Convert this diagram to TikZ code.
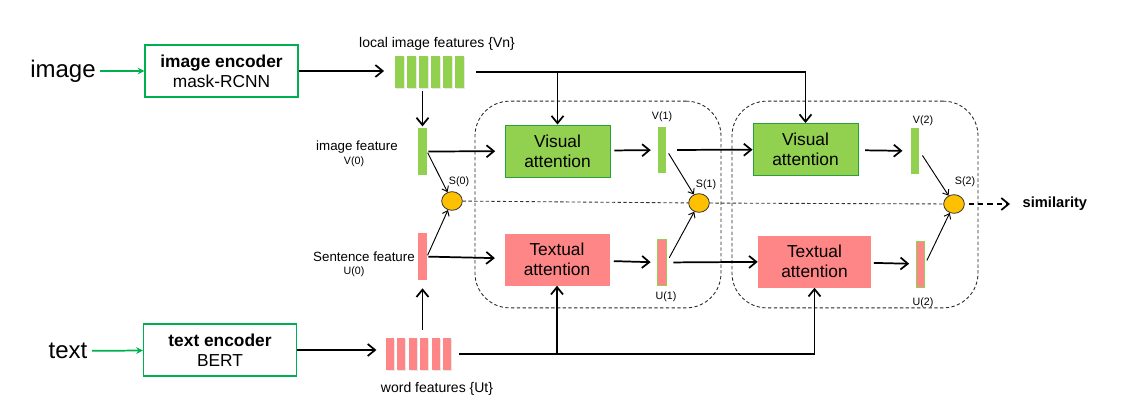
\documentclass[tikz,border=0pt]{standalone}
\usepackage{fontspec}
\setmainfont{Liberation Sans}
\usetikzlibrary{arrows.meta,positioning,shapes.geometric,shadows}
\definecolor{encgreen}{RGB}{0,176,80}
\definecolor{visgreen}{RGB}{146,208,80}
\definecolor{visedge}{RGB}{40,160,60}
\definecolor{txtpink}{RGB}{255,134,134}
\definecolor{simorange}{RGB}{255,192,0}
\tikzset{
  encbox/.style={draw=encgreen,line width=0.9pt,minimum width=114.75pt,minimum height=39pt,align=center,font=\fontsize{13}{15}\selectfont},
  attbox/.style={minimum width=78.75pt,minimum height=39pt,align=center,font=\fontsize{13}{15}\selectfont},
  visbox/.style={attbox,fill=visgreen,draw=visedge,line width=0.7pt},
  txtbox/.style={attbox,fill=txtpink},
  bar/.style={minimum width=6.4pt,minimum height=34.5pt,inner sep=0pt},
  vbar/.style={bar,fill=visgreen},
  ubar/.style={bar,fill=txtpink},
  shade/.style={drop shadow={shadow xshift=0.8pt,shadow yshift=-0.8pt,opacity=0.18}},
  score/.style={ellipse,draw=black!80,fill=simorange,line width=0.6pt,minimum width=15.5pt,minimum height=14pt,inner sep=0pt},
  stage/.style={draw=black!85,line width=0.65pt,dash pattern=on 2.5pt off 1.8pt,rounded corners=26pt,minimum width=184.5pt,minimum height=155pt},
  arr/.style={-{Straight Barb[length=5.5pt,width=9pt]},line width=1.3pt},
  thin arr/.style={-{Straight Barb[length=3.5pt,width=5.5pt]},line width=0.7pt},
  feed/.style={-{Stealth[length=5pt,width=5pt]},encgreen,line width=1.3pt},
  lbl/.style={font=\fontsize{10}{12}\selectfont,inner sep=1pt},
  small/.style={font=\fontsize{8}{9}\selectfont,inner sep=1pt},
}
\begin{document}
\begin{tikzpicture}[x=0.75pt,y=-0.75pt]
\useasboundingbox (0,0) rectangle (1138,418);
% two attention stages
\node[stage] (stage1) at (598,204.5) {};
\node[stage] (stage2) at (855,204.5) {};
% inputs and encoders
\node[font=\fontsize{18}{20}\selectfont] (img) at (63,71) {image};
\node[font=\fontsize{18}{20}\selectfont] (txt) at (68,351) {text};
\node[encbox] (imgenc) at (221.5,71) {\textbf{image encoder}\\mask-RCNN};
\node[encbox] (txtenc) at (220,350) {\textbf{text encoder}\\BERT};
% local features
\node[minimum width=51.75pt,minimum height=24pt,inner sep=0pt] (Vn) at (429.5,72) {};
\foreach \i in {0,...,5}
  \node[vbar,shade,minimum width=6.75pt,minimum height=24pt] (vn\i) at (399.5+12*\i,72) {};
\node[minimum width=48.75pt,minimum height=24pt,inner sep=0pt] (Ut) at (418.5,354) {};
\foreach \i in {0,...,5}
  \node[ubar,shade,minimum width=6pt,minimum height=24pt] (ut\i) at (390+11.4*\i,354) {};
\node[font=\fontsize{10.5}{12}\selectfont] (vnlbl) at (437,44) {local image features \{Vn\}};
\node[font=\fontsize{10.5}{12}\selectfont] (utlbl) at (437,389) {word features \{Ut\}};
% feature bars
\node[vbar,minimum height=35.25pt] (v0) at (422.5,151.5) {};
\node[ubar,minimum height=35.25pt] (u0) at (422.5,256.5) {};
\node[vbar] (v1) at (662,150) {};
\node[ubar,draw=visgreen,line width=0.6pt] (u1) at (662,262.5) {};
\node[vbar] (v2) at (915,151) {};
\node[ubar,draw=visgreen,line width=0.6pt] (u2) at (920.5,264) {};
% attention blocks
\node[visbox] (va1) at (557.5,151) {Visual\\attention};
\node[txtbox] (ta1) at (557,259.5) {Textual\\attention};
\node[visbox] (va2) at (805.5,149.5) {Visual\\attention};
\node[txtbox,minimum width=84.75pt] (ta2) at (814.5,261.5) {Textual\\attention};
% scores
\node[score] (s0) at (452,201) {};
\node[score] (s1) at (699,203) {};
\node[score] (s2) at (954,204) {};
\node[font=\bfseries\fontsize{11}{13}\selectfont,anchor=west] (sim) at (1018,204) {similarity};
% labels
\node[lbl] (v0lbl) at (357,147) {image feature};
\node[small] (v0num) at (354,162) {V(0)};
\node[lbl] (u0lbl) at (364,257) {Sentence feature};
\node[small] (u0num) at (354,272) {U(0)};
\node[small] (v1lbl) at (662,117) {V(1)};
\node[small] (u1lbl) at (666,297) {U(1)};
\node[small] (v2lbl) at (923,121) {V(2)};
\node[small] (u2lbl) at (923,303) {U(2)};
\node[small] (s0lbl) at (459,182) {S(0)};
\node[small] (s1lbl) at (706,185) {S(1)};
\node[small] (s2lbl) at (965,182) {S(2)};
% encoders
\draw[feed] (img) -- (imgenc);
\draw[feed] (txt) -- (txtenc);
\draw[arr,shorten >=8pt] (imgenc) -- (imgenc -| Vn.west);
\draw[arr,shorten >=7pt] (txtenc) -- (txtenc -| Ut.west);
% local features into the stages
\draw[arr,shorten <=9pt] (Vn.east) -| (va2.north);
\draw[arr] (va1.north |- Vn.east) -- (va1.north);
\draw[arr,shorten <=2pt,shorten >=1pt] (v0.north |- Vn.south) -- (v0.north);
\draw[arr,shorten <=6pt] (Ut.east) -| (ta2.south);
\draw[arr] (ta1.south |- Ut.east) -- (ta1.south);
\draw[arr,shorten <=6pt,shorten >=6pt] (u0.south |- Ut.north) -- (u0.south);
% stage 1
\draw[arr,shorten <=1pt,shorten >=7pt] (v0) -- (va1);
\draw[arr,shorten <=1pt,shorten >=7pt] (u0) -- (ta1);
\draw[thin arr,shorten <=1pt] (v0.east) -- (s0);
\draw[thin arr,shorten <=1pt] (u0.east) -- (s0);
\draw[arr,shorten <=3pt,shorten >=5pt] (va1) -- (v1);
\draw[arr,shorten <=3pt,shorten >=5pt] (ta1) -- (u1);
\draw[thin arr,shorten <=3pt] (v1.east) -- (s1);
\draw[thin arr,shorten <=4pt] (u1.east) -- (s1);
% stage 2
\draw[arr,shorten <=8pt] (v1) -- (va2);
\draw[arr,shorten <=5pt] (u1) -- (ta2);
\draw[arr,shorten <=5pt,shorten >=6pt] (va2) -- (v2);
\draw[arr,shorten <=2pt,shorten >=5pt] (ta2) -- (u2);
\draw[thin arr,shorten <=4pt] (v2.east) -- (s2);
\draw[thin arr,shorten <=3pt] (u2.east) -- (s2);
% similarity
\draw[black!80,line width=0.65pt,dash pattern=on 2.5pt off 1.8pt] (s0) -- (s1) -- (s2);
\draw[arr,dash pattern=on 4pt off 3pt,shorten <=3pt,shorten >=6pt] (s2) -- (sim);
\end{tikzpicture}
\end{document}
